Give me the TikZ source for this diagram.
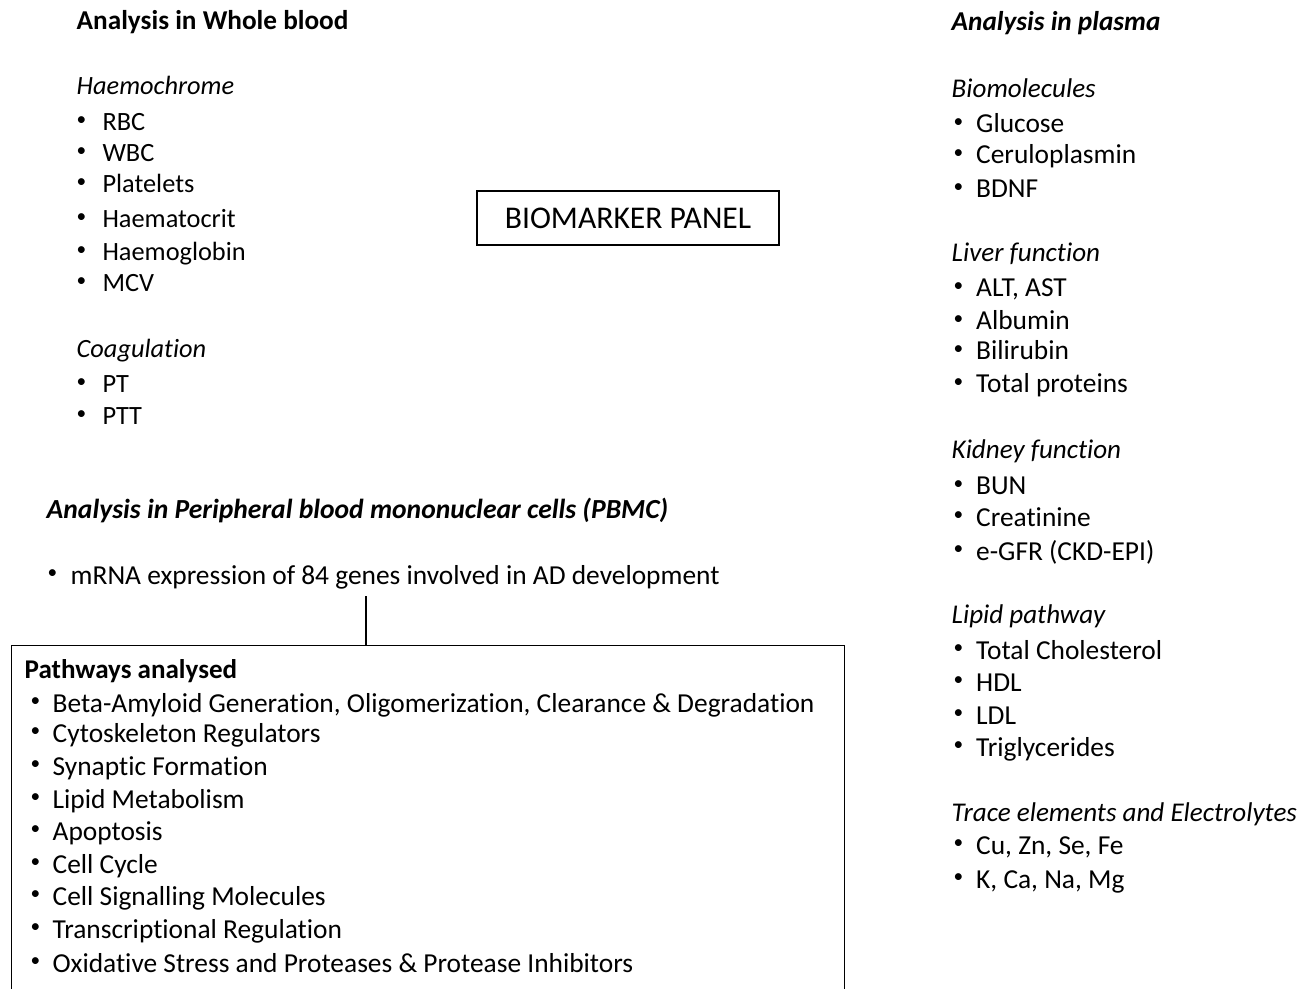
\documentclass[tikz,border=0pt]{standalone}
\usepackage{fontspec}
\setmainfont{Carlito}[Ligatures=NoCommon]
\usetikzlibrary{positioning}
\newcommand\blt[1]{\makebox[#1][l]{\raisebox{3.2pt}{\fontsize{11}{11}\selectfont\textbullet}}}

\begin{document}
\begin{tikzpicture}[x=0.02cm,y=-0.02cm,line width=0.8pt,
    head/.style={anchor=base west,inner sep=0pt,font=\fontsize{15.5}{18}\selectfont\bfseries},
    headit/.style={head,font=\fontsize{15.5}{18}\selectfont\bfseries\itshape},
    sub/.style={anchor=base west,inner sep=0pt,font=\fontsize{15}{18}\selectfont\itshape},
    item/.style={anchor=base west,inner sep=0pt,font=\fontsize{15}{18}\selectfont},
    bigitem/.style={item,font=\fontsize{15.6}{18}\selectfont}]
\useasboundingbox (0,0) rectangle (1311,989);
\clip (0,0) rectangle (1311,989);

% whole blood
\node[head] (wbhead) at (76,30) {Analysis in Whole blood};
\node[sub] (haem) at (76,95) {Haemochrome};
\foreach \y/\t [count=\i] in {131/RBC,162/WBC,193/Platelets,228/Haematocrit,261/Haemoglobin,292/MCV}
    \node[item] (haem\i) at (76,\y) {\blt{14.7pt}\t};
\node[sub] (coag) at (76,358) {Coagulation};
\foreach \y/\t [count=\i] in {393/PT,425/PTT}
    \node[item] (coag\i) at (76,\y) {\blt{14.7pt}\t};

% title box
\node[draw,minimum width=6.04cm,minimum height=1.08cm,font=\fontsize{18}{20}\selectfont] (panel) at (628,218) {BIOMARKER PANEL};

% plasma
\node[headit] (plhead) at (951,31) {Analysis in plasma};
\node[sub,font=\fontsize{15.4}{18}\selectfont\itshape] (biomol) at (951,98) {Biomolecules};
\foreach \y/\t [count=\i] in {133/Glucose,164/Ceruloplasmin,198/BDNF}
    \node[bigitem] (biomol\i) at (953,\y) {\blt{12.8pt}\t};
\node[sub,font=\fontsize{15.4}{18}\selectfont\itshape] (liver) at (951,262) {Liver function};
\foreach \y/\t [count=\i] in {297/{ALT, AST},330/Albumin,360/Bilirubin,393/Total proteins}
    \node[bigitem] (liver\i) at (953,\y) {\blt{12.8pt}\t};
\node[sub,font=\fontsize{15.4}{18}\selectfont\itshape] (kidney) at (951,459) {Kidney function};
\foreach \y/\t [count=\i] in {495/BUN,526/Creatinine,560/e-GFR (CKD-EPI)}
    \node[bigitem] (kidney\i) at (953,\y) {\blt{12.8pt}\t};
\node[sub,font=\fontsize{15.4}{18}\selectfont\itshape] (lipid) at (951,623) {Lipid pathway};
\foreach \y/\t [count=\i] in {659/Total Cholesterol,691/HDL,724/LDL,756/Triglycerides}
    \node[bigitem] (lipid\i) at (953,\y) {\blt{12.8pt}\t};
\node[sub,font=\fontsize{15.4}{18}\selectfont\itshape] (trace) at (951,821) {Trace elements and Electrolytes};
\foreach \y/\t [count=\i] in {854/{Cu, Zn, Se, Fe},888/{K, Ca, Na, Mg}}
    \node[bigitem] (trace\i) at (953,\y) {\blt{12.8pt}\t};

% PBMC
\node[headit,font=\fontsize{15.7}{18}\selectfont\bfseries\itshape] (pbmc) at (46,518) {Analysis in Peripheral blood mononuclear cells (PBMC)};
\node[bigitem] (mrna) at (47,584) {\blt{13.1pt}mRNA expression of 84 genes involved in AD development};
\node[draw,anchor=north west,minimum width=16.66cm,minimum height=7.2cm] (pathbox) at (11,645) {};
\coordinate (tap) at (366,596);
\draw (tap) -- (tap |- pathbox.north);
\node[head,font=\fontsize{15.4}{18}\selectfont\bfseries] (paths) at (24,678) {Pathways analysed};
\foreach \y/\t [count=\i] in {712/{Beta-Amyloid Generation, Oligomerization, Clearance \& Degradation},
    742/Cytoskeleton Regulators,775/Synaptic Formation,808/Lipid Metabolism,840/Apoptosis,
    873/Cell Cycle,905/Cell Signalling Molecules,938/Transcriptional Regulation,
    972/Oxidative Stress and Proteases \& Protease Inhibitors}
    \node[bigitem] (paths\i) at (30,\y) {\blt{12.5pt}\t};
\end{tikzpicture}
\end{document}
